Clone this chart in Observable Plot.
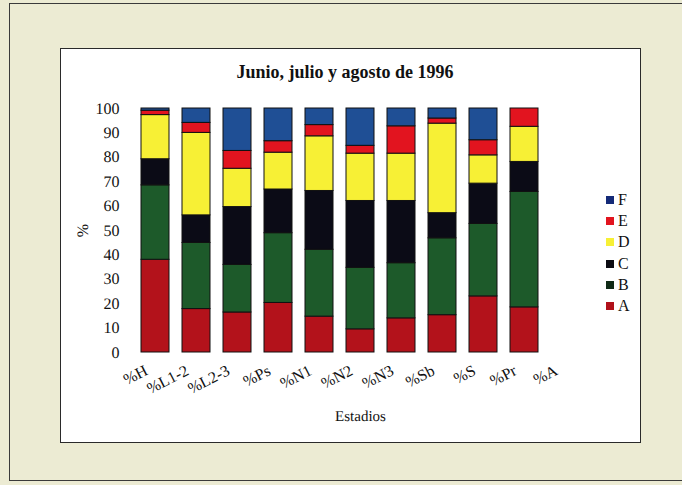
<!DOCTYPE html>
<html>
<head>
<meta charset="utf-8">
<script src="https://cdn.jsdelivr.net/npm/d3@7"></script>
<script src="https://cdn.jsdelivr.net/npm/@observablehq/plot@0.6"></script>
<style>
  body { margin: 0; background: #ecebd3; }
  #page { position: relative; width: 682px; height: 485px; background: #ecebd3; overflow: hidden; font-family: "Liberation Serif", "Times New Roman", serif; }
  #outer { position: absolute; left: 9px; top: 3px; width: 680px; height: 478px; border: 1.5px solid #3a3a3a; box-sizing: border-box; }
  #panel { position: absolute; left: 60px; top: 48px; width: 581px; height: 395px; background: #fff; border: 1.5px solid #2a2a2a; box-sizing: border-box; }
  #title { position: absolute; left: 60px; width: 570px; top: 62px; text-align: center; font-weight: bold; font-size: 18px; color: #111; }
  #chart { position: absolute; left: 60px; top: 90px; }
  #legend { position: absolute; left: 606px; top: 190px; font-size: 16px; color: #111; }
  #legend .item { position: absolute; left: 0; height: 20px; width: 30px; }
  #legend .sw { position: absolute; left: 0; top: 6px; width: 8px; height: 8px; }
  #legend .lb { position: absolute; left: 12px; top: 0; line-height: 20px; }
  svg text { text-rendering: geometricPrecision; }
</style>
</head>
<body>
<div id="page">
  <div id="outer"></div>
  <div id="panel"></div>
  <div id="title">Junio, julio y agosto de 1996</div>
  <div id="chart"></div>
  <div id="legend"></div>
</div>
<script>
const categories = ["%H", "%L1-2", "%L2-3", "%Ps", "%N1", "%N2", "%N3", "%Sb", "%S", "%Pr", "%A"];
const seriesNames = ["A", "B", "C", "D", "E", "F"];
const seriesColors = ["#b3121b", "#1d5a2a", "#0b0b16", "#f7f035", "#e2141f", "#1f4f95"];
const legendColors = ["#b0101a", "#0f2a16", "#0b0b12", "#f7f035", "#e2141f", "#142a78"];
// values per category (the last category, %A, has no bar)
const A = [38.0, 17.8, 16.4, 20.3, 14.7, 9.5, 14.0, 15.3, 23.0, 18.5, null];
const B = [30.5, 27.1, 19.5, 28.6, 27.4, 25.2, 22.6, 31.5, 29.7, 47.3, null];
const C = [10.7, 11.3, 23.7, 17.9, 24.1, 27.4, 25.5, 10.3, 16.5, 12.3, null];
const D = [18.1, 33.8, 15.7, 15.1, 22.4, 19.4, 19.4, 36.7, 11.6, 14.4, null];
const E = [1.8, 4.1, 7.3, 4.7, 4.6, 3.2, 11.2, 2.1, 6.2, 7.5, null];
const F = [0.9, 5.9, 17.4, 13.4, 6.8, 15.3, 7.3, 4.1, 13.0, 0.0, null];
const yTicks = [0, 10, 20, 30, 40, 50, 60, 70, 80, 90, 100];

const seriesValues = {A, B, C, D, E, F};
const rows = [];
categories.forEach((cat, i) => {
  seriesNames.forEach(s => {
    const v = seriesValues[s][i];
    if (v != null && v > 0) rows.push({cat, series: s, value: v});
  });
});

const chart = Plot.plot({
  width: 580,
  height: 340,
  marginLeft: 71,
  marginRight: 51,
  marginTop: 18,
  marginBottom: 78,
  style: {fontFamily: "Liberation Serif, Times New Roman, serif", fontSize: "15px", color: "#111", background: "transparent"},
  x: {domain: categories, paddingInner: 0.32, paddingOuter: 0.16},
  y: {domain: [0, 100]},
  color: {domain: seriesNames, range: seriesColors},
  marks: [
    Plot.barY(rows, Plot.stackY({order: seriesNames}, {
      x: "cat", y: "value", z: "series", fill: "series",
      stroke: "#111", strokeWidth: 1
    })),
    Plot.axisY({ticks: yTicks, tickSize: 0, tickPadding: 12, fontSize: 16,
      label: "%", labelAnchor: "center", labelArrow: "none", labelOffset: 55}),
    Plot.axisX({tickSize: 0, tickRotate: -27, tickPadding: 17, dx: -9, fontSize: 16,
      label: null}),
    Plot.text(["Estadios"], {frameAnchor: "bottom", dy: 68, fontSize: 15})
  ]
});
document.getElementById("chart").appendChild(chart);

const legend = document.getElementById("legend");
const order = ["F", "E", "D", "C", "B", "A"];
order.forEach((s, i) => {
  const item = document.createElement("div");
  item.className = "item";
  item.style.top = (i * 21.2) + "px";
  const sw = document.createElement("div");
  sw.className = "sw";
  sw.style.background = legendColors[seriesNames.indexOf(s)];
  const lb = document.createElement("div");
  lb.className = "lb";
  lb.textContent = s;
  item.appendChild(sw);
  item.appendChild(lb);
  legend.appendChild(item);
});
</script>
</body>
</html>
